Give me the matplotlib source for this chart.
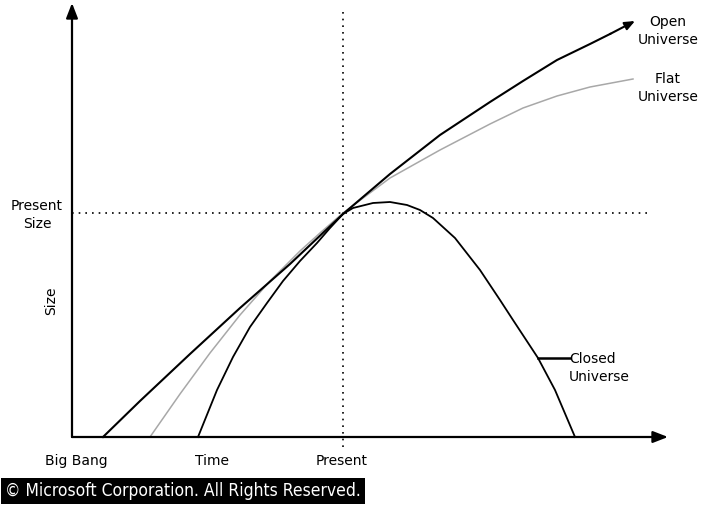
import matplotlib.pyplot as plt

# time since the big bang (t) and size of the universe (s), arbitrary units
open_t = [31, 68, 118, 168, 218, 271, 318, 368, 418, 451, 485, 518, 538, 563]
open_s = [0, 36, 83, 129, 173, 223, 263, 302, 335, 356, 377, 393, 403, 416]

flat_t = [78, 108, 138, 168, 198, 228, 248, 271, 318, 368, 418, 451, 485, 518, 561]
flat_s = [0, 43, 84, 122, 156, 186, 204, 224, 259, 287, 313, 329, 341, 350, 358]

closed_t = [126, 145, 161, 178, 195, 211, 228, 245, 258, 271, 281, 301, 318,
            335, 348, 361, 383, 408, 428, 441, 466, 483, 503]
closed_s = [0, 47, 80, 110, 134, 156, 176, 194, 209, 223, 229, 234, 235,
            232, 227, 219, 199, 167, 137, 117, 79, 47, 0]

present_t = 271
present_s = 224

tick_t = [4, 140, 270]
tick_labels = ["Big Bang", "Time", "Present"]

fig = plt.figure(figsize=(7.09, 5.05), dpi=100)
ax = fig.add_axes([0, 0, 1, 1])
ax.set_xlim(-72, 637)
ax.set_ylim(-68, 437)
ax.axis("off")

# axes with arrow heads
arrow = dict(arrowstyle="-|>,head_length=0.9,head_width=0.35", color="black", lw=1.6,
             shrinkA=0, shrinkB=0)
ax.annotate("", xy=(0, 434), xytext=(0, 0), arrowprops=arrow)
ax.annotate("", xy=(596, 0), xytext=(0, 0), arrowprops=arrow)

# present time / present size guides
ax.plot([present_t, present_t], [-10, 428], color="black", lw=1.2, ls=(0, (1, 3)))
ax.plot([0, 575], [present_s, present_s], color="black", lw=1.2, ls=(0, (1, 3)))

ax.plot(flat_t, flat_s, color="#a8a8a8", lw=1.1, solid_joinstyle="round")
ax.plot(closed_t, closed_s, color="black", lw=1.3, solid_joinstyle="round")
ax.plot(open_t[:-1], open_s[:-1], color="black", lw=1.5, solid_joinstyle="round")
ax.annotate("", xy=(open_t[-1], open_s[-1]), xytext=(open_t[-2], open_s[-2]),
            arrowprops=dict(arrowstyle="-|>,head_length=0.6,head_width=0.25",
                            color="black", lw=1.5, shrinkA=0, shrinkB=0))

font = dict(family="DejaVu Sans", fontsize=10, color="black")
ax.text(596, 406, "Open\nUniverse", ha="center", va="center", linespacing=1.4, **font)
ax.text(596, 349, "Flat\nUniverse", ha="center", va="center", linespacing=1.4, **font)
ax.plot([466, 498], [79, 79], color="black", lw=1.8)
ax.text(497, 69, "Closed\nUniverse", ha="left", va="center", linespacing=1.4, **font)

ax.text(-35, 222, "Present\nSize", ha="center", va="center", linespacing=1.3, **font)
ax.text(-21, 136, "Size", ha="center", va="center", rotation=90, **font)

for t, label in zip(tick_t, tick_labels):
    ax.text(t, -24, label, ha="center", va="center", **font)

ax.text(-67, -54, "\u00a9 Microsoft Corporation. All Rights Reserved.", ha="left",
        va="center", color="white", fontsize=12.5, fontstretch="condensed",
        family=["DejaVu Sans"],
        bbox=dict(boxstyle="square,pad=0.22", fc="black", ec="none"))

fig.savefig("out.png", dpi=100)
